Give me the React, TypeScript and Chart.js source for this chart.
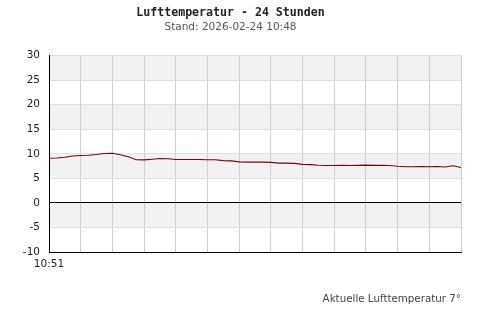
import React, { useEffect, useRef } from "react";
import { Chart, registerables } from "chart.js";

Chart.register(...registerables);

const titleText = "Lufttemperatur - 24 Stunden";
const subtitleText = "Stand: 2026-02-24 10:48";
const footerText = "Aktuelle Lufttemperatur 7°";
const startLabel = "10:51";
const yTicks = [-10, -5, 0, 5, 10, 15, 20, 25, 30];
const shadedBands = [
  [25, 30],
  [15, 20],
  [5, 10],
  [-5, 0],
];
// temperature readings, evenly spaced over the period (0.25 grid units apart)
const temps = [
  9.1, 9.15, 9.3, 9.55, 9.65, 9.7, 9.85, 10.05, 10.1, 9.8, 9.4, 8.8, 8.75,
  8.9, 9.05, 9.0, 8.85, 8.85, 8.85, 8.85, 8.8, 8.8, 8.6, 8.55, 8.35, 8.3,
  8.3, 8.3, 8.25, 8.1, 8.1, 8.05, 7.85, 7.8, 7.65, 7.6, 7.6, 7.65, 7.6,
  7.65, 7.7, 7.65, 7.65, 7.6, 7.45, 7.35, 7.35, 7.4, 7.35, 7.4, 7.3, 7.55,
  7.2,
];
const step = 0.25;

const bandPlugin = {
  id: "bands",
  beforeDraw(chart: any) {
    const { ctx, chartArea, scales } = chart;
    const y = scales.y;
    ctx.save();
    ctx.fillStyle = "#f2f2f2";
    for (const [lo, hi] of shadedBands) {
      const top = y.getPixelForValue(hi);
      const bot = y.getPixelForValue(lo);
      ctx.fillRect(chartArea.left, top, chartArea.right - chartArea.left, bot - top);
    }
    ctx.restore();
  },
};

export default function App() {
  const ref = useRef<HTMLCanvasElement>(null);
  useEffect(() => {
    if (!ref.current) return;
    const chart = new Chart(ref.current, {
      type: "line",
      data: {
        datasets: [
          {
            data: temps.map((t, i) => ({ x: i * step, y: t })),
            borderColor: "#700808",
            borderWidth: 1.1,
            pointRadius: 0,
            tension: 0,
            fill: false,
          },
        ],
      },
      options: {
        responsive: false,
        animation: false,
        layout: { padding: { left: 0, right: 39, top: 0, bottom: 0 } },
        plugins: {
          legend: { display: false },
          tooltip: { enabled: false },
          title: {
            display: true,
            text: titleText,
            color: "#222",
            font: { family: "'DejaVu Sans Mono'", size: 11.6, weight: "bold", lineHeight: 1.2 },
            padding: { top: 6, bottom: 0 },
          },
          subtitle: {
            display: true,
            text: subtitleText,
            color: "#555",
            font: { family: "'DejaVu Sans'", size: 10.5, lineHeight: 1.2 },
            padding: { top: 1, bottom: 22 },
          },
        },
        scales: {
          x: {
            type: "linear",
            min: 0,
            max: 13,
            grid: {
              drawTicks: false,
              color: (c: any) => (c.tick && c.tick.value === 0 ? "rgba(0,0,0,0)" : "#cfcfcf"),
            },
            border: { display: true, color: "#000", width: 1 },
            ticks: {
              stepSize: 1,
              autoSkip: false,
              maxRotation: 0,
              padding: 6,
              color: "#222",
              font: { family: "'DejaVu Sans'", size: 10.5, lineHeight: 1.2 },
              callback: (v: any) => (v === 0 ? startLabel : ""),
            },
            title: {
              display: true,
              text: footerText,
              align: "end",
              color: "#444",
              font: { family: "'DejaVu Sans'", size: 10.3, lineHeight: 1.2 },
              padding: { top: 17, bottom: 14 },
            },
          },
          y: {
            min: -10,
            max: 30,
            afterFit: (s: any) => {
              s.width = 49;
            },
            afterBuildTicks: (s: any) => {
              s.ticks = yTicks.map((v) => ({ value: v }));
            },
            grid: {
              drawTicks: false,
              color: (c: any) => (c.tick && c.tick.value === 0 ? "#000" : "#e0e0e0"),
            },
            border: { display: true, color: "#000", width: 1 },
            ticks: {
              padding: 9,
              color: "#222",
              font: { family: "'DejaVu Sans'", size: 10.5, lineHeight: 1.2 },
            },
          },
        },
      },
      plugins: [bandPlugin],
    } as any);
    return () => chart.destroy();
  }, []);
  return (
    <div style={{ position: "absolute", left: 0, top: 0, width: 500, height: 320, background: "#fff" }}>
      <canvas ref={ref} width={500} height={320} style={{ display: "block" }} />
    </div>
  );
}
